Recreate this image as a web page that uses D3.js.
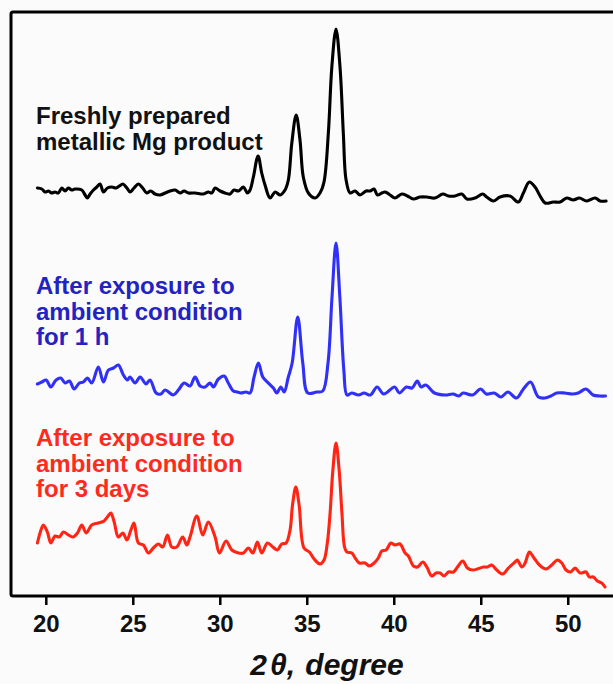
<!DOCTYPE html>
<html>
<head>
<meta charset="utf-8">
<script src="https://cdn.jsdelivr.net/npm/d3@7"></script>
<style>
	html, body { margin: 0; padding: 0; background: #fbfbfb; }
	svg { display: block; font-family: "Liberation Sans", Arial, sans-serif; }
</style>
</head>
<body>
<div id="xrdChart"></div>
<script>
// 2theta (degree) and intensity (a.u., offset stacked)

const freshAngle = [19.52, 19.77, 19.96, 20.15, 20.34, 20.53, 20.72, 20.92, 21.11, 21.30, 21.49, 21.68, 22.07, 22.26, 22.39, 22.55, 22.74, 22.93, 23.12, 23.31, 23.54, 23.79, 24.04, 24.23, 24.43, 24.66, 24.84, 25.07, 25.32, 25.57, 25.80, 26.03, 26.28, 26.57, 26.86, 27.14, 27.43, 27.72, 27.95, 28.20, 28.58, 29.06, 29.34, 29.54, 29.73, 30.02, 30.30, 30.59, 30.82, 31.07, 31.36, 31.59, 31.74, 31.93, 32.20, 32.41, 32.60, 32.89, 33.18, 33.47, 33.75, 33.94, 34.14, 34.39, 34.61, 34.80, 35.09, 35.48, 35.76, 35.99, 36.24, 36.44, 36.68, 36.91, 37.10, 37.26, 37.49, 37.78, 38.06, 38.41, 38.64, 38.87, 39.06, 39.31, 39.50, 39.79, 40.07, 40.46, 40.78, 41.13, 41.51, 41.90, 42.37, 42.82, 43.14, 43.52, 43.91, 44.20, 44.67, 45.11, 45.34, 45.72, 46.11, 46.68, 47.16, 47.45, 47.79, 48.12, 48.41, 48.70, 49.17, 49.56, 49.94, 50.32, 50.67, 51.09, 51.57, 51.86, 52.20];
const freshIntensity = [408, 407, 404, 405, 403, 404, 403, 408, 405, 408, 406, 407, 406, 401, 398, 402, 406, 409, 412, 404, 408, 409, 408, 410, 412, 408, 404, 408, 412, 408, 403, 405, 402, 401, 403, 405, 406, 403, 405, 403, 403, 402, 404, 403, 408, 405, 403, 402, 406, 405, 409, 403, 406, 419, 440, 423, 411, 398, 404, 401, 406, 416, 453, 481, 456, 419, 403, 398, 403, 414, 463, 529, 567, 529, 463, 416, 403, 405, 401, 405, 405, 407, 401, 403, 404, 401, 398, 402, 400, 397, 399, 399, 398, 402, 400, 400, 402, 397, 398, 402, 399, 395, 399, 400, 394, 403, 414, 409, 400, 393, 394, 394, 398, 396, 398, 395, 398, 395, 395];

const hourAngle = [19.52, 19.77, 20.02, 20.29, 20.59, 20.86, 21.11, 21.36, 21.63, 21.93, 22.16, 22.39, 22.64, 23.02, 23.31, 23.60, 23.89, 24.17, 24.46, 24.69, 24.84, 25.13, 25.42, 25.76, 25.99, 26.34, 26.61, 26.86, 27.33, 27.62, 27.95, 28.29, 28.58, 28.87, 29.16, 29.44, 29.63, 29.92, 30.25, 30.49, 30.78, 31.01, 31.21, 31.51, 31.74, 31.97, 32.22, 32.47, 32.79, 33.08, 33.28, 33.51, 33.70, 33.94, 34.16, 34.48, 34.77, 35.06, 35.57, 35.92, 36.22, 36.45, 36.68, 36.90, 37.13, 37.31, 37.58, 37.98, 38.29, 38.66, 39.04, 39.42, 40.05, 40.32, 40.72, 41.05, 41.35, 41.57, 41.84, 42.34, 42.97, 43.41, 43.75, 43.98, 44.54, 44.99, 45.32, 45.77, 46.16, 46.56, 47.05, 47.45, 47.86, 48.31, 48.69, 49.03, 49.36, 49.82, 50.26, 50.60, 51.05, 51.45, 51.83, 52.17];
const hourIntensity = [212, 214, 216, 209, 216, 218, 213, 215, 207, 213, 214, 218, 213, 229, 214, 226, 228, 231, 221, 216, 219, 213, 219, 212, 216, 203, 202, 206, 201, 206, 213, 210, 219, 210, 209, 213, 209, 217, 220, 213, 205, 204, 203, 204, 203, 219, 233, 219, 213, 208, 203, 209, 204, 219, 233, 279, 233, 203, 204, 205, 233, 299, 353, 299, 226, 201, 203, 201, 203, 201, 209, 202, 209, 203, 209, 208, 215, 209, 211, 203, 201, 202, 200, 203, 201, 207, 202, 203, 199, 204, 198, 207, 214, 199, 198, 200, 203, 203, 202, 203, 207, 201, 200, 200];

const dayAngle = [19.52, 19.67, 19.86, 20.09, 20.29, 20.53, 20.78, 21.01, 21.30, 21.55, 21.82, 22.07, 22.32, 22.64, 23.02, 23.35, 23.54, 23.74, 23.93, 24.17, 24.43, 24.66, 24.89, 25.07, 25.32, 25.61, 25.90, 26.18, 26.47, 26.72, 26.99, 27.24, 27.53, 27.87, 28.10, 28.29, 28.68, 29.02, 29.34, 29.73, 29.98, 30.36, 30.69, 31.07, 31.36, 31.64, 31.90, 32.16, 32.41, 32.74, 33.05, 33.31, 33.56, 33.81, 34.04, 34.18, 34.37, 34.56, 34.84, 35.15, 35.42, 35.76, 35.99, 36.18, 36.34, 36.50, 36.68, 36.86, 37.02, 37.17, 37.30, 37.59, 37.78, 38.02, 38.35, 38.60, 38.87, 39.11, 39.31, 39.56, 39.83, 40.07, 40.36, 40.65, 40.84, 41.13, 41.36, 41.67, 41.90, 42.18, 42.43, 42.66, 42.89, 43.14, 43.43, 43.66, 43.97, 44.23, 44.54, 44.80, 45.15, 45.38, 45.63, 45.92, 46.26, 46.59, 46.97, 47.10, 47.36, 47.55, 47.79, 48.06, 48.37, 48.75, 49.08, 49.40, 49.66, 49.90, 50.17, 50.42, 50.71, 51.05, 51.24, 51.47, 51.70, 51.95, 52.14];
const dayIntensity = [53, 63, 71, 64, 53, 60, 59, 64, 61, 59, 63, 71, 63, 71, 73, 75, 79, 83, 74, 59, 63, 56, 66, 73, 53, 51, 43, 48, 52, 49, 61, 49, 49, 59, 51, 59, 80, 61, 74, 59, 43, 55, 46, 43, 43, 48, 43, 54, 43, 53, 49, 46, 52, 53, 66, 91, 109, 91, 48, 44, 37, 32, 36, 53, 83, 126, 153, 126, 83, 49, 44, 43, 38, 33, 33, 30, 33, 38, 45, 46, 53, 51, 52, 43, 40, 30, 29, 34, 29, 20, 23, 23, 20, 24, 24, 29, 35, 28, 26, 27, 29, 29, 31, 26, 22, 28, 34, 36, 29, 33, 44, 38, 31, 27, 31, 36, 33, 26, 24, 28, 23, 24, 19, 19, 15, 13, 9];

const xTicks = [20, 25, 30, 35, 40, 45, 50];

const series = [
	{ name: "fresh", angle: freshAngle, intensity: freshIntensity, color: "#000000",
		label: ["Freshly prepared", "metallic Mg product"], labelColor: "#111111", labelY: 124 },
	{ name: "hour", angle: hourAngle, intensity: hourIntensity, color: "#3030f8",
		label: ["After exposure to", "ambient condition", "for 1 h"], labelColor: "#2323c2", labelY: 294 },
	{ name: "day", angle: dayAngle, intensity: dayIntensity, color: "#ff2414",
		label: ["After exposure to", "ambient condition", "for 3 days"], labelColor: "#ff2a1e", labelY: 446 }
];

// set the dimensions and margins of the graph
const totalWidth = 613, totalHeight = 684;
const margin = { top: 12, right: 0, bottom: 88, left: 11 };
const width = totalWidth - margin.left - margin.right;
const height = totalHeight - margin.top - margin.bottom;

// set the ranges
const x = d3.scaleLinear().domain([18.0, 52.6]).range([0, width]);
const y = d3.scaleLinear().domain([0, 584]).range([height, 0]);

const svg = d3.select("#xrdChart").append("svg")
	.attr("width", totalWidth)
	.attr("height", totalHeight);

svg.append("rect")
	.attr("width", totalWidth)
	.attr("height", totalHeight)
	.attr("fill", "#fbfbfb");

const g = svg.append("g")
	.attr("transform", "translate(" + margin.left + "," + margin.top + ")");

// the line
const line = d3.line()
	.x(d => x(d.angle))
	.y(d => y(d.intensity))
	.curve(d3.curveCatmullRom.alpha(0.5));

series.forEach(s => {
	const points = s.angle.map((a, i) => ({ angle: a, intensity: s.intensity[i] }));
	g.append("path")
		.datum(points)
		.attr("fill", "none")
		.attr("stroke", s.color)
		.attr("stroke-width", 3.1)
		.attr("stroke-linejoin", "round")
		.attr("stroke-linecap", "round")
		.attr("d", line);

	const label = g.append("text")
		.attr("fill", s.labelColor)
		.attr("font-weight", "bold")
		.attr("font-size", 24)
		.attr("x", 25)
		.attr("y", s.labelY - margin.top);
	label.selectAll("tspan")
		.data(s.label)
		.enter().append("tspan")
		.attr("x", 25)
		.attr("dy", (d, i) => i === 0 ? 0 : 25.7)
		.text(d => d);
});

// frame
g.append("rect")
	.attr("width", width + 6)
	.attr("height", height)
	.attr("fill", "none")
	.attr("stroke", "#000")
	.attr("stroke-width", 3)
	.attr("rx", 2);

// x axis
const xAxis = g.append("g")
	.attr("transform", "translate(0," + height + ")")
	.call(d3.axisBottom(x).tickValues(xTicks).tickSize(9).tickPadding(10));

xAxis.select(".domain").remove();
xAxis.selectAll(".tick line")
	.attr("stroke", "#000")
	.attr("stroke-width", 2.5);
xAxis.selectAll(".tick text")
	.attr("fill", "#111")
	.attr("font-family", "Liberation Sans, Arial, sans-serif")
	.attr("font-weight", "bold")
	.attr("font-size", 24);

// axis title, theta spaced a little as in the source
const title = svg.append("text")
	.attr("x", 327)
	.attr("y", 675)
	.attr("text-anchor", "middle")
	.attr("fill", "#111")
	.attr("font-weight", "bold")
	.attr("font-style", "italic")
	.attr("font-size", 30);
title.append("tspan").text("2");
title.append("tspan").attr("dx", 3).text("θ,");
title.append("tspan").attr("dx", 2).text(" degree");
</script>
</body>
</html>
